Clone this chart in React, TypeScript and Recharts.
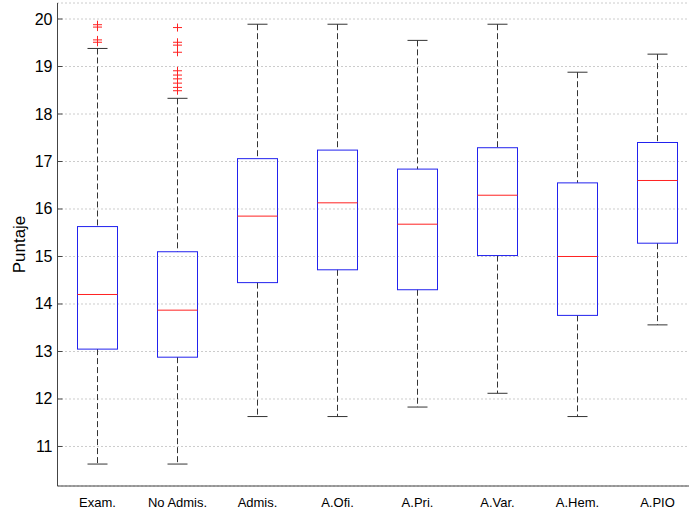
import { ComposedChart, Bar, Scatter, XAxis, YAxis, CartesianGrid, Label } from 'recharts';

// Puntajes por grupo (boxplot)
const categories = ['Exam.', 'No Admis.', 'Admis.', 'A.Ofi.', 'A.Pri.', 'A.Var.', 'A.Hem.', 'A.PIO'];
const lowWhisker = [10.63, 10.63, 11.63, 11.63, 11.83, 12.12, 11.63, 13.56];
const q1 = [13.05, 12.88, 14.45, 14.72, 14.3, 15.02, 13.76, 15.28];
const medians = [14.2, 13.87, 15.85, 16.13, 15.68, 16.29, 15.0, 16.6];
const q3 = [15.63, 15.1, 17.06, 17.24, 16.84, 17.29, 16.55, 17.4];
const highWhisker = [19.38, 18.33, 19.89, 19.89, 19.55, 19.89, 18.88, 19.26];

// valores atípicos: grupo (1..8) y puntaje
const outlierGroup = [1, 1, 1, 1, 2, 2, 2, 2, 2, 2, 2, 2, 2, 2];
const outlierValues = [19.88, 19.83, 19.56, 19.51, 19.82, 19.51, 19.45, 19.3, 18.91, 18.82, 18.74, 18.65, 18.56, 18.49];

const yTicks = [11, 12, 13, 14, 15, 16, 17, 18, 19, 20];

const boxData = categories.map((name, i) => ({
  pos: i + 1,
  name,
  range: [lowWhisker[i], highWhisker[i]],
  lo: lowWhisker[i],
  q1: q1[i],
  med: medians[i],
  q3: q3[i],
  hi: highWhisker[i],
}));

const outlierData = outlierGroup.map((g, i) => ({ pos: g, v: outlierValues[i] }));

const FONT = '"Liberation Sans", Arial, Helvetica, sans-serif';

function BoxShape(props: any) {
  const { x, y, width, height, payload } = props;
  const { lo, hi } = payload;
  // posición en px a partir del rango dibujado por la barra
  const toPx = (v: number) => y + (height * (hi - v)) / (hi - lo);
  const cx = x + width / 2;
  const half = 20;
  const cap = 10;
  const top = toPx(payload.q3);
  const bottom = toPx(payload.q1);
  return (
    <g>
      <line x1={cx} x2={cx} y1={toPx(hi)} y2={top} stroke="#333" strokeDasharray="6 3" />
      <line x1={cx} x2={cx} y1={bottom} y2={toPx(lo)} stroke="#333" strokeDasharray="6 3" />
      <line x1={cx - cap} x2={cx + cap} y1={toPx(hi)} y2={toPx(hi)} stroke="#333" />
      <line x1={cx - cap} x2={cx + cap} y1={toPx(lo)} y2={toPx(lo)} stroke="#333" />
      <rect x={cx - half} y={top} width={half * 2} height={bottom - top} fill="none" stroke="#2222ee" />
      <line x1={cx - half} x2={cx + half} y1={toPx(payload.med)} y2={toPx(payload.med)} stroke="#ff2222" />
    </g>
  );
}

function PlusShape(props: any) {
  const { cx, cy } = props;
  return (
    <g stroke="#ff2222">
      <line x1={cx - 4.5} x2={cx + 4.5} y1={cy} y2={cy} />
      <line x1={cx} x2={cx} y1={cy - 4} y2={cy + 4} />
    </g>
  );
}

function YTick(props: any) {
  const { x, y, payload } = props;
  const axisX = 57.5;
  return (
    <g>
      <line x1={axisX} x2={axisX + 5} y1={y} y2={y} stroke="#444" />
      <text x={x} y={y} textAnchor="end" dominantBaseline="central" fontSize={16} fontFamily={FONT} fill="#000">
        {payload.value}
      </text>
    </g>
  );
}

export default function App() {
  return (
    <div style={{ position: 'absolute', left: 0, top: 0, width: 689, height: 513, overflow: 'hidden', background: '#fff' }}>
      <ComposedChart
        width={700}
        height={513}
        data={boxData}
        margin={{ top: 3, right: 2.5, left: 0, bottom: 0 }}
      >
        <CartesianGrid vertical={false} stroke="#999" strokeDasharray="1 3" />
        <XAxis
          xAxisId="bottom"
          type="number"
          dataKey="pos"
          domain={[0.5, 8.5]}
          allowDataOverflow
          ticks={[1, 2, 3, 4, 5, 6, 7, 8]}
          interval={0}
          tickFormatter={(v: number) => categories[v - 1]}
          tick={{ fontSize: 13, fill: '#000', fontFamily: FONT }}
          tickLine={false}
          tickSize={5}
          tickMargin={6.5}
          height={27}
          axisLine={{ stroke: '#444' }}
        />
        <XAxis
          xAxisId="top"
          orientation="top"
          type="number"
          dataKey="pos"
          domain={[0.5, 8.5]}
          allowDataOverflow
          tick={false}
          tickLine={false}
          height={0}
          axisLine={{ stroke: '#444' }}
        />
        <YAxis
          type="number"
          domain={[10.168, 20.337]}
          allowDataOverflow
          ticks={yTicks}
          interval={0}
          width={57.5}
          tickLine={false}
          tickSize={0}
          tickMargin={5}
          tick={<YTick />}
          axisLine={{ stroke: '#444' }}
        >
          <Label
            content={({ viewBox }: any) => (
              <text
                x={19}
                y={viewBox.y + viewBox.height / 2}
                transform={`rotate(-90 19 ${viewBox.y + viewBox.height / 2})`}
                textAnchor="middle"
                dominantBaseline="central"
                fontSize={17}
                fontFamily={FONT}
                fill="#000"
              >
                Puntaje
              </text>
            )}
          />
        </YAxis>
        <Bar xAxisId="bottom" dataKey="range" barSize={40} shape={<BoxShape />} isAnimationActive={false} />
        <Scatter
          xAxisId="top"
          data={outlierData}
          dataKey="v"
          shape={<PlusShape />}
          isAnimationActive={false}
        />
      </ComposedChart>
    </div>
  );
}
